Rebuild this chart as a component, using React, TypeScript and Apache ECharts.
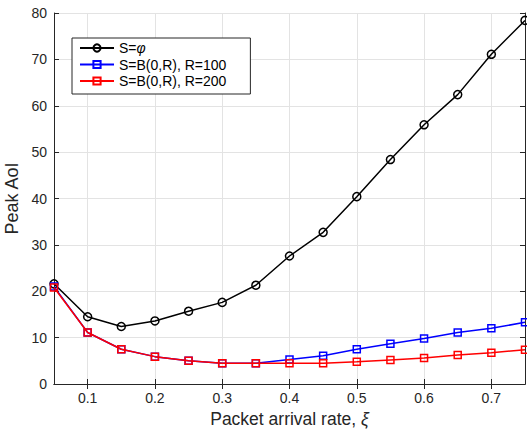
import React, { useEffect, useRef } from "react";
import * as echarts from "echarts";

const xValues = [0.05, 0.1, 0.15, 0.2, 0.25, 0.3, 0.35, 0.4, 0.45, 0.5, 0.55, 0.6, 0.65, 0.7, 0.75];
const seriesPhi = [21.6, 14.5, 12.4, 13.6, 15.7, 17.6, 21.3, 27.6, 32.7, 40.4, 48.4, 55.9, 62.4, 71.1, 78.4];
const seriesR100 = [21.0, 11.1, 7.5, 5.9, 5.0, 4.5, 4.45, 5.3, 6.1, 7.5, 8.7, 9.8, 11.1, 12.0, 13.3];
const seriesR200 = [20.8, 11.1, 7.5, 5.9, 5.0, 4.5, 4.45, 4.45, 4.5, 4.8, 5.2, 5.6, 6.25, 6.75, 7.4];
const xTicks = [0.1, 0.2, 0.3, 0.4, 0.5, 0.6, 0.7];
const names = ["S=φ", "S=B(0,R), R=100", "S=B(0,R), R=200"];

const FONT = "Liberation Sans, Arial, Helvetica, sans-serif";

export default function App() {
  const ref = useRef<HTMLDivElement>(null);
  useEffect(() => {
    if (!ref.current) return;
    const chart = echarts.init(ref.current, undefined, { renderer: "svg" });
    const mk = (vals: number[]) => vals.map((v, i) => [xValues[i], v]);
    const axisLineStyle = { color: "#262626", width: 1 };
    chart.setOption({
      animation: false,
      backgroundColor: "#fff",
      textStyle: { fontFamily: FONT },
      grid: { left: 54, right: 2, top: 13, bottom: 47, containLabel: false, outerBoundsMode: "none" },
      legend: {
        orient: "vertical",
        left: 72,
        top: 38,
        itemWidth: 34,
        itemHeight: 9,
        itemGap: 2.5,
        padding: [3, 24, 6, 7],
        backgroundColor: "#fff",
        borderColor: "#262626",
        borderWidth: 1,
        borderRadius: 0,
        textStyle: {
          fontFamily: FONT,
          fontSize: 14,
          color: "#000",
          rich: { i: { fontStyle: "italic", fontSize: 14, fontFamily: FONT, color: "#000" } },
        },
        formatter: (n: string) => (n === names[0] ? "S={i|φ}" : n),
        data: names,
      },
      xAxis: [
        {
          type: "value",
          min: 0.05,
          max: 0.75,
          name: "Packet arrival rate, {i|ξ}",
          nameLocation: "middle",
          nameGap: 25,
          nameTextStyle: {
            fontSize: 17.5,
            color: "#262626",
            fontFamily: FONT,
            rich: { i: { fontStyle: "italic", fontSize: 17.5, fontFamily: FONT, color: "#262626" } },
          },
          axisLine: { lineStyle: axisLineStyle },
          axisTick: { inside: true, length: 5, customValues: xTicks, lineStyle: axisLineStyle },
          axisLabel: {
            customValues: xTicks,
            fontSize: 14,
            color: "#262626",
            margin: 7,
            formatter: (v: number) => String(Math.round(v * 10) / 10),
          },
          splitLine: { show: true, lineStyle: { color: "#e3e3e3", width: 1 } },
        },
        {
          type: "value",
          position: "top",
          min: 0.05,
          max: 0.75,
          axisLine: { show: true, lineStyle: axisLineStyle },
          axisTick: { inside: true, length: 5, customValues: xTicks, lineStyle: axisLineStyle },
          axisLabel: { show: false },
          splitLine: { show: false },
        },
      ],
      yAxis: [
        {
          type: "value",
          min: 0,
          max: 80,
          interval: 10,
          name: "Peak AoI",
          nameLocation: "middle",
          nameGap: 31,
          nameTextStyle: { fontSize: 18, color: "#262626", fontFamily: FONT },
          axisLine: { show: true, lineStyle: axisLineStyle },
          axisTick: { show: true, inside: true, length: 5, lineStyle: axisLineStyle },
          axisLabel: { fontSize: 14, color: "#262626", margin: 7 },
          splitLine: { show: true, lineStyle: { color: "#e3e3e3", width: 1 } },
        },
        {
          type: "value",
          position: "right",
          min: 0,
          max: 80,
          interval: 10,
          axisLine: { show: true, lineStyle: axisLineStyle },
          axisTick: { show: true, inside: true, length: 5, lineStyle: axisLineStyle },
          axisLabel: { show: false },
          splitLine: { show: false },
        },
      ],
      series: [
        {
          name: names[0],
          type: "line",
          data: mk(seriesPhi),
          symbol: "circle",
          symbolSize: 8,
          showAllSymbol: true,
          lineStyle: { color: "#000", width: 1.5 },
          itemStyle: { color: "rgba(255,255,255,0)", borderColor: "#000", borderWidth: 1.5 },
          z: 3,
        },
        {
          name: names[1],
          type: "line",
          data: mk(seriesR100),
          symbol: "rect",
          symbolSize: 7,
          showAllSymbol: true,
          lineStyle: { color: "#0000ff", width: 1.5 },
          itemStyle: { color: "rgba(255,255,255,0)", borderColor: "#0000ff", borderWidth: 1.5 },
          z: 4,
        },
        {
          name: names[2],
          type: "line",
          data: mk(seriesR200),
          symbol: "rect",
          symbolSize: 7,
          showAllSymbol: true,
          lineStyle: { color: "#ff0000", width: 1.5 },
          itemStyle: { color: "rgba(255,255,255,0)", borderColor: "#ff0000", borderWidth: 1.5 },
          z: 5,
        },
      ],
    });
    return () => chart.dispose();
  }, []);
  return <div ref={ref} style={{ width: 527, height: 431, position: "absolute", left: 0, top: 0 }} />;
}
